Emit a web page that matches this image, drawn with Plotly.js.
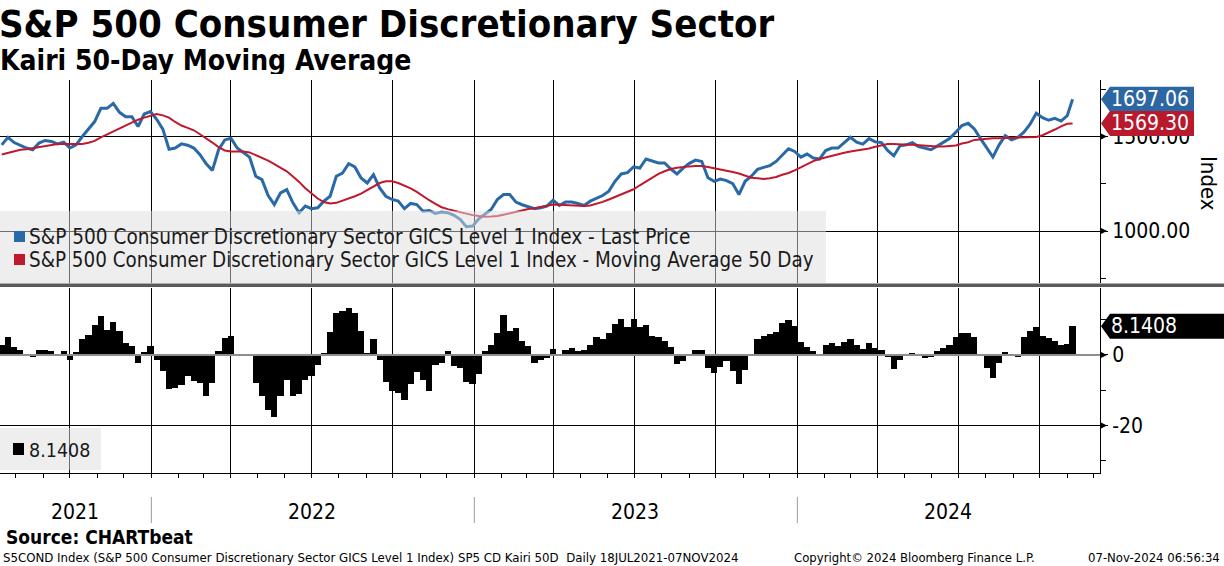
<!DOCTYPE html>
<html>
<head>
<meta charset="utf-8">
<script src="https://cdn.plot.ly/plotly-3.0.1.min.js"></script>
<style>
  html, body { margin: 0; padding: 0; background: #fff; }
  #chart { width: 1224px; height: 566px; }
</style>
</head>
<body>
<div id="chart"></div>
<script>
// weekly samples, first Friday 16 Jul 2021, last point 07 Nov 2024
const startDay = '2021-07-16';
const lastDay = '2024-11-07';

// last price of the index
const price = [
  1456, 1496, 1468, 1454, 1439, 1430, 1465, 1479, 1474, 1461,
  1470, 1439, 1456, 1500, 1539, 1579, 1649, 1649, 1675, 1628,
  1605, 1605, 1553, 1619, 1632, 1591, 1539, 1433, 1439, 1461,
  1454, 1439, 1404, 1356, 1321, 1430, 1482, 1491, 1439, 1416,
  1391, 1290, 1272, 1188, 1140, 1202, 1219, 1149, 1097, 1132,
  1118, 1123, 1158, 1184, 1290, 1307, 1356, 1339, 1281, 1254,
  1298, 1228, 1184, 1167, 1158, 1118, 1146, 1140, 1105, 1109,
  1093, 1100, 1097, 1083, 1062, 1023, 1026, 1065, 1091, 1114,
  1167, 1193, 1193, 1153, 1139, 1128, 1118, 1123, 1132, 1163,
  1135, 1153, 1153, 1146, 1135, 1158, 1172, 1188, 1211, 1263,
  1302, 1309, 1339, 1333, 1381, 1372, 1360, 1360, 1328, 1302,
  1333, 1358, 1375, 1368, 1282, 1263, 1275, 1267, 1251, 1193,
  1263, 1290, 1326, 1337, 1346, 1368, 1400, 1435, 1421, 1391,
  1407, 1386, 1381, 1426, 1439, 1439, 1468, 1496, 1470, 1460,
  1489, 1472, 1468, 1426, 1398, 1451, 1456, 1467, 1447, 1439,
  1430, 1449, 1468, 1489, 1523, 1558, 1570, 1540, 1489, 1439,
  1391, 1456, 1505, 1482, 1495, 1523, 1565, 1623, 1600, 1586,
  1596, 1582, 1610, 1697.06
];

// 50 day moving average
const ma50 = [
  1405, 1414, 1423, 1430, 1433, 1439, 1444, 1451, 1456, 1460,
  1461, 1460, 1458, 1460, 1467, 1477, 1495, 1511, 1526, 1542,
  1560, 1575, 1589, 1600, 1611, 1619, 1612, 1600, 1577, 1558,
  1546, 1533, 1512, 1491, 1468, 1444, 1426, 1421, 1421, 1421,
  1416, 1402, 1390, 1372, 1354, 1335, 1316, 1288, 1260, 1226,
  1197, 1172, 1153, 1146, 1149, 1160, 1174, 1184, 1198, 1216,
  1237, 1254, 1263, 1263, 1254, 1242, 1226, 1207, 1184, 1163,
  1144, 1126, 1116, 1107, 1100, 1093, 1084, 1079, 1076, 1077,
  1079, 1086, 1093, 1104, 1109, 1116, 1121, 1128, 1135, 1140,
  1139, 1137, 1135, 1133, 1132, 1135, 1144, 1154, 1167, 1181,
  1195, 1207, 1221, 1242, 1261, 1284, 1302, 1316, 1328, 1335,
  1340, 1342, 1344, 1344, 1339, 1333, 1326, 1321, 1312, 1304,
  1293, 1282, 1279, 1275, 1279, 1286, 1298, 1307, 1321, 1337,
  1353, 1370, 1381, 1390, 1397, 1405, 1414, 1421, 1426, 1430,
  1437, 1446, 1453, 1460, 1460, 1456, 1456, 1456, 1454, 1449,
  1447, 1447, 1447, 1449, 1453, 1463, 1470, 1482, 1486, 1489,
  1491, 1491, 1491, 1493, 1495, 1496, 1496, 1498, 1507, 1521,
  1537, 1554, 1567, 1569.30
];

// Kairi 50D (% distance of price from the average)
const kairi = [
  2.9, 5.0, 2.2, 1.5, -0.4, -0.5, 1.4, 1.3, 1.2, 0.3,
  1.0, -1.3, 0.8, 4.4, 5.6, 8.4, 11.0, 7.2, 9.3, 6.9,
  3.4, 2.5, -2.3, 0.8, 2.5, -1.3, -4.6, -9.8, -9.3, -8.4,
  -6.0, -7.3, -7.9, -11.7, -7.9, 1.0, 4.8, 5.3, -0.4, 0.1,
  -0.4, -7.9, -11.7, -15.5, -17.5, -11.7, -7.0, -11.7, -11.2, -7.0,
  -6.0, -2.9, 0.6, 6.5, 11.9, 12.4, 13.3, 11.9, 6.7, 0.6,
  4.5, -1.5, -7.6, -10.1, -10.8, -12.9, -8.2, -4.9, -7.0, -10.3,
  -2.9, -2.3, 1.2, -3.0, -3.7, -7.6, -8.2, -5.4, 1.2, 2.7,
  6.2, 11.4, 6.7, 7.6, 3.9, 2.5, -2.3, -1.3, -1.0, 1.8,
  -0.2, 1.5, 2.0, 1.2, 1.5, 2.9, 5.1, 4.6, 6.2, 8.8,
  10.3, 8.0, 10.3, 8.0, 8.6, 5.3, 5.1, 3.9, 2.2, -2.7,
  -1.8, 0.4, 1.5, 1.5, -3.7, -5.1, -3.5, -1.8, -4.6, -8.2,
  -4.4, -0.4, 4.5, 5.3, 5.9, 6.6, 9.1, 10.0, 8.1, 3.7,
  2.3, 1.2, -0.2, 2.9, 3.3, 2.5, 3.8, 4.5, 2.7, 1.8,
  3.3, 2.0, 1.5, -0.7, -3.9, -1.3, 0.0, 0.6, 0.2, -1.0,
  -0.7, 1.1, 2.0, 2.9, 5.1, 6.1, 6.2, 5.1, 0.3, -3.7,
  -6.5, -2.3, 0.8, 0.3, -0.7, 5.0, 6.9, 7.8, 5.5, 4.8,
  3.9, 2.9, 3.1, 8.1408
];

const quarterTicks = ['2021-10-01', '2022-01-01', '2022-04-01', '2022-07-01', '2022-10-01',
  '2023-01-01', '2023-04-01', '2023-07-01', '2023-10-01', '2024-01-01', '2024-04-01',
  '2024-07-01', '2024-10-01'];
const yearStarts = ['2022-01-01', '2023-01-01', '2024-01-01'];
const yearLabels = ['2021', '2022', '2023', '2024'];
const yearLabelPx = [75, 312, 635, 948];
const priceTicks = [1000, 1500];
const kairiTicks = [-20, 0];

const legendNames = [
  'S&P 500 Consumer Discretionary Sector GICS Level 1 Index - Last Price',
  'S&P 500 Consumer Discretionary Sector GICS Level 1 Index - Moving Average 50 Day'
];

// build the date list (one per week + last day)
const dates = [];
let t = Date.parse(startDay + 'T00:00:00Z');
for (let i = 0; i < price.length - 1; i++) {
  dates.push(new Date(t).toISOString().slice(0, 10));
  t += 7 * 864e5;
}
dates.push(lastDay);

const W = 1224, H = 566;
const px = x => x / W;
const py = y => 1 - y / H;
const FONT = '"DejaVu Sans Condensed", "DejaVu Sans", sans-serif';
const BLUE = '#2a69a8', RED = '#c0182c';

const xRange = ['2021-07-14', '2024-12-08'];
const yRange = [725, 1799];
const y2Range = [-33.5, 19];
const perPxUp = (yRange[1] - yRange[0]) / 203;   // data units per pixel, top panel
const perPxDn = (y2Range[1] - y2Range[0]) / 185; // bottom panel

const traces = [
  { x: dates, y: price, type: 'scatter', mode: 'lines', xaxis: 'x', yaxis: 'y',
    line: { color: BLUE, width: 3 }, hoverinfo: 'skip' },
  { x: dates, y: ma50, type: 'scatter', mode: 'lines', xaxis: 'x', yaxis: 'y',
    line: { color: RED, width: 2 }, hoverinfo: 'skip' },
  { x: dates, y: kairi, type: 'bar', xaxis: 'x2', yaxis: 'y2', width: 7 * 864e5,
    marker: { color: '#000', line: { width: 0 } }, hoverinfo: 'skip' }
];

const xCommon = {
  type: 'date', range: xRange, domain: [0, px(1100)],
  tickmode: 'array', tickvals: quarterTicks, showticklabels: false,
  showgrid: true, gridcolor: '#000', gridwidth: 1, zeroline: false, fixedrange: true
};

// value tags on the right axis
const lastP = price[price.length - 1];
const lastM = ma50[ma50.length - 1];
const lastK = kairi[kairi.length - 1];
function tag(v, half, xEnd) {
  return `M ${px(1101)},${v} L ${px(1110)},${v + half} L ${px(xEnd)},${v + half} ` +
         `L ${px(xEnd)},${v - half} L ${px(1110)},${v - half} Z`;
}
function arrow(v, half) {
  return `M ${px(1100)},${v - half} L ${px(1107)},${v} L ${px(1100)},${v + half} Z`;
}

const shapes = [
  // legend panels (semi transparent, over the lines)
  { type: 'rect', xref: 'paper', yref: 'paper', x0: 0, x1: px(826), y0: py(283), y1: py(211),
    fillcolor: 'rgba(222,222,222,0.5)', line: { width: 0 }, layer: 'above' },
  { type: 'rect', xref: 'paper', yref: 'paper', x0: 0, x1: px(101), y0: py(470), y1: py(428),
    fillcolor: 'rgba(222,222,222,0.5)', line: { width: 0 }, layer: 'above' },
  { type: 'rect', xref: 'paper', yref: 'paper', x0: px(14), x1: px(25), y0: py(242), y1: py(231),
    fillcolor: BLUE, line: { width: 0 }, layer: 'above' },
  { type: 'rect', xref: 'paper', yref: 'paper', x0: px(14), x1: px(25), y0: py(265), y1: py(254),
    fillcolor: RED, line: { width: 0 }, layer: 'above' },
  { type: 'rect', xref: 'paper', yref: 'paper', x0: px(13), x1: px(24), y0: py(455), y1: py(443),
    fillcolor: '#000', line: { width: 0 }, layer: 'above' },
  // panel splitter
  { type: 'rect', xref: 'paper', yref: 'paper', x0: 0, x1: 1, y0: py(287), y1: py(283.5),
    fillcolor: '#5a5a5a', line: { width: 0 }, layer: 'above' },
  // zero line of the Kairi panel
  { type: 'line', xref: 'paper', yref: 'y2', x0: 0, x1: px(1100), y0: 0, y1: 0,
    line: { color: '#8e8e8e', width: 2 }, layer: 'above' },
  // tags
  { type: 'path', xref: 'paper', yref: 'y', path: tag(lastP, 12.5 * perPxUp, 1194),
    fillcolor: '#2c67a3', line: { width: 0 }, layer: 'above' },
  { type: 'path', xref: 'paper', yref: 'y', path: tag(lastM, 12.5 * perPxUp, 1194),
    fillcolor: '#b8192d', line: { width: 0 }, layer: 'above' },
  { type: 'path', xref: 'paper', yref: 'y2', path: tag(lastK, 12.5 * perPxDn, 1224),
    fillcolor: '#000', line: { width: 0 }, layer: 'above' }
];
// little pointers on the labelled ticks
priceTicks.forEach(v => shapes.push({ type: 'path', xref: 'paper', yref: 'y',
  path: arrow(v, 3.5 * perPxUp), fillcolor: '#000', line: { width: 0 } }));
kairiTicks.forEach(v => shapes.push({ type: 'path', xref: 'paper', yref: 'y2',
  path: arrow(v, 3.5 * perPxDn), fillcolor: '#000', line: { width: 0 } }));
yearStarts.forEach(d => shapes.push({
  type: 'line', xref: 'x2', yref: 'paper', x0: d, x1: d, y0: py(523), y1: py(497),
  line: { color: '#9a9a9a', width: 1 }
}));

const ann = (text, x, y, size, extra) => Object.assign({
  text: text, xref: 'paper', yref: 'paper', x: px(x), y: py(y),
  xanchor: 'left', yanchor: 'middle', showarrow: false,
  font: { family: FONT, size: size, color: '#000' }
}, extra || {});
const legendFont = size => ({ font: { family: FONT, size: size, color: '#1a1a1a' } });
const tagAnn = (v, yref) => ({
  text: yref === 'y2' ? v.toFixed(4) : v.toFixed(2), xref: 'paper', yref: yref,
  x: px(1110), y: v, xanchor: 'left', yanchor: 'middle', showarrow: false,
  height: 22, borderpad: 0, font: { family: FONT, size: 21, color: '#fff' }
});

const annotations = [
  ann('<b>S&P 500 Consumer Discretionary Sector</b>', -2, 24, 38, { height: 40, borderpad: 0 }),
  ann('<b>Kairi 50-Day Moving Average</b>', -1, 60, 28, { height: 28, borderpad: 0 }),
  ann(legendNames[0], 27, 237, 20.6, legendFont(20.6)),
  ann(legendNames[1], 27, 260, 20.4, legendFont(20.4)),
  ann(lastK.toFixed(4), 27, 450, 19.5, legendFont(19.5)),
  ann('Index', 1209, 183, 22, { xanchor: 'center', textangle: 90 }),
  ann('<b>Source: CHARTbeat</b>', 4, 537, 19),
  ann('S5COND Index (S&P 500 Consumer Discretionary Sector GICS Level 1 Index) SP5 CD Kairi 50D  Daily 18JUL2021-07NOV2024',
      1, 557, 13.1),
  ann('Copyright\u00a9 2024 Bloomberg Finance L.P.', 792, 557, 13),
  ann('07-Nov-2024 06:56:34', 1222, 557, 13, { xanchor: 'right' }),
  tagAnn(lastP, 'y'),
  tagAnn(lastM, 'y'),
  tagAnn(lastK, 'y2')
];
yearLabels.forEach((yr, i) => annotations.push(
  ann(yr, yearLabelPx[i], 512, 21, { xanchor: 'center' })
));

const layout = {
  width: W, height: H,
  margin: { l: 0, r: 0, t: 0, b: 0, pad: 0 },
  paper_bgcolor: '#fff', plot_bgcolor: '#fff',
  showlegend: false, bargap: 0,
  font: { family: FONT, size: 20, color: '#000' },
  xaxis: Object.assign({}, xCommon, { anchor: 'y', ticks: '' }),
  xaxis2: Object.assign({}, xCommon, {
    anchor: 'y2', showline: true, linecolor: '#000', linewidth: 1,
    ticks: 'outside', ticklen: 4, tickcolor: '#000',
    minor: { dtick: 'M1', tick0: '2021-01-01', ticks: 'outside', ticklen: 4, tickcolor: '#000', showgrid: false }
  }),
  yaxis: {
    domain: [py(283), py(80)], range: yRange, side: 'right', anchor: 'x',
    tickmode: 'array', tickvals: priceTicks, ticktext: priceTicks.map(v => v.toFixed(2)),
    showgrid: true, gridcolor: '#000', gridwidth: 1, zeroline: false,
    showline: true, linecolor: '#000', ticks: 'outside', ticklen: 7, tickcolor: '#000',
    minor: { tickvals: [750, 1250, 1750], ticks: 'outside', ticklen: 5, tickcolor: '#000', showgrid: false },
    tickfont: { family: FONT, size: 21 }, fixedrange: true
  },
  yaxis2: {
    domain: [py(473), py(288)], range: y2Range, side: 'right', anchor: 'x2',
    tickmode: 'array', tickvals: kairiTicks, ticktext: kairiTicks.map(String),
    showgrid: true, gridcolor: '#000', gridwidth: 1, zeroline: false,
    showline: true, linecolor: '#000', ticks: 'outside', ticklen: 7, tickcolor: '#000',
    minor: { tickvals: [-30, -10, 10], ticks: 'outside', ticklen: 5, tickcolor: '#000', showgrid: false },
    tickfont: { family: FONT, size: 21 }, fixedrange: true
  },
  shapes: shapes,
  annotations: annotations
};

Plotly.newPlot('chart', traces, layout, { displayModeBar: false, staticPlot: true });
</script>
</body>
</html>
